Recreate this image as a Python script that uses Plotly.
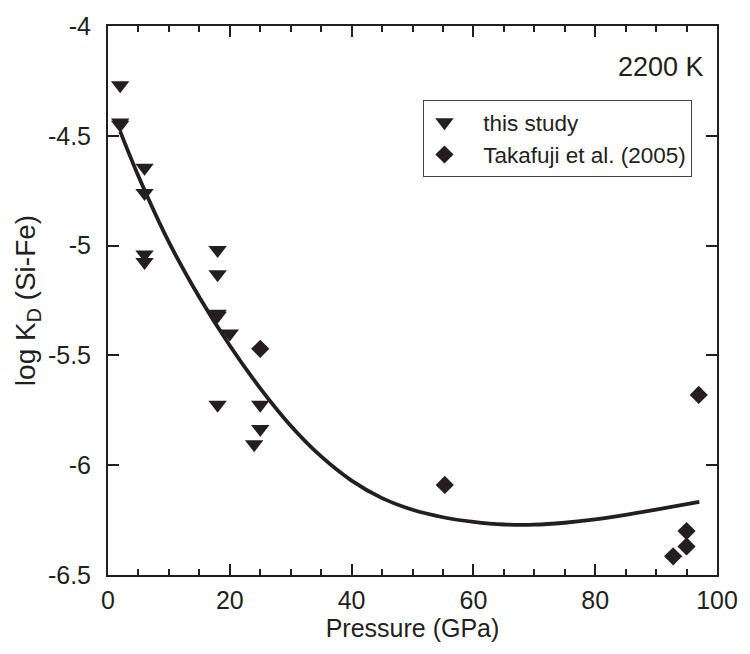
import plotly.graph_objects as go

# ---- data ----
study_p = [2, 2, 2, 6, 6, 6, 6, 18, 18, 18, 18, 20, 18, 25, 25, 24]
study_kd = [-4.27, -4.44, -4.45, -4.645, -4.76, -5.04, -5.075, -5.02, -5.13, -5.31, -5.32, -5.40, -5.725, -5.725, -5.835, -5.905]

taka_p = [25, 55.3, 97, 95, 95, 92.8]
taka_kd = [-5.47, -6.09, -5.68, -6.30, -6.37, -6.415]

fit_p = [2, 5, 10, 15, 20, 25, 30, 35, 40, 45, 50, 55, 60, 65, 70, 75, 80, 85, 90, 97.1]
fit_kd = [-4.48, -4.684, -4.984, -5.235, -5.455, -5.650, -5.820, -5.960, -6.070, -6.150,
          -6.203, -6.237, -6.258, -6.270, -6.271, -6.262, -6.247, -6.226, -6.202, -6.167]

x_ticks = [0, 20, 40, 60, 80, 100]
x_ticklabels = ["0", "20", "40", "60", "80", "100"]
y_ticks = [-4, -4.5, -5, -5.5, -6, -6.5]
y_ticklabels = ["-4", "-4.5", "-5", "-5.5", "-6", "-6.5"]

INK = "#231f20"
FONT = "Liberation Sans, Arial, sans-serif"
NB = "\u00a0"

fig = go.Figure()
fig.add_trace(go.Scatter(
    x=fit_p, y=fit_kd, mode="lines", line=dict(color=INK, width=3.8, shape="spline"),
    showlegend=False, hoverinfo="skip"))
fig.add_trace(go.Scatter(
    x=study_p, y=study_kd, mode="markers", name=NB * 3 + "this study",
    marker=dict(symbol="triangle-down", size=16, color=INK)))
fig.add_trace(go.Scatter(
    x=taka_p, y=taka_kd, mode="markers", name=NB * 3 + "Takafuji et al. (2005)",
    marker=dict(symbol="diamond", size=14, color=INK)))

axis_common = dict(
    showline=True, linecolor=INK, linewidth=2, mirror="ticks",
    ticks="inside", tickcolor=INK, tickwidth=2, ticklen=11,
    showgrid=False, zeroline=False,
    tickfont=dict(family=FONT, size=25, color=INK),
)

fig.update_xaxes(
    range=[0, 100], tickvals=x_ticks, ticktext=x_ticklabels,
    minor=dict(dtick=5, ticks="inside", ticklen=6, tickwidth=2, tickcolor=INK),
    title=dict(text="Pressure (GPa)", font=dict(family=FONT, size=25, color=INK), standoff=4),
    ticklabelstandoff=2,
    **axis_common)
fig.update_yaxes(
    range=[-6.5, -4], tickvals=y_ticks, ticktext=y_ticklabels,
    title=dict(text="log K<sub>D</sub> (Si-Fe)", font=dict(family=FONT, size=28, color=INK), standoff=4),
    ticklabelstandoff=10,
    **axis_common)

fig.add_annotation(
    text="2200 K", xref="paper", yref="paper", x=0.982, y=0.925,
    xanchor="right", yanchor="middle", showarrow=False,
    font=dict(family=FONT, size=27, color=INK))

fig.update_layout(
    width=750, height=654,
    margin=dict(l=108, r=22, t=21, b=79),
    paper_bgcolor="white", plot_bgcolor="white",
    legend=dict(
        x=0.518, y=0.865, xanchor="left", yanchor="top",
        bgcolor="white", bordercolor="#444", borderwidth=1,
        font=dict(family=FONT, size=22.5, color=INK),
        itemwidth=30, tracegroupgap=0,
    ),
)

fig.write_html("out.html")
